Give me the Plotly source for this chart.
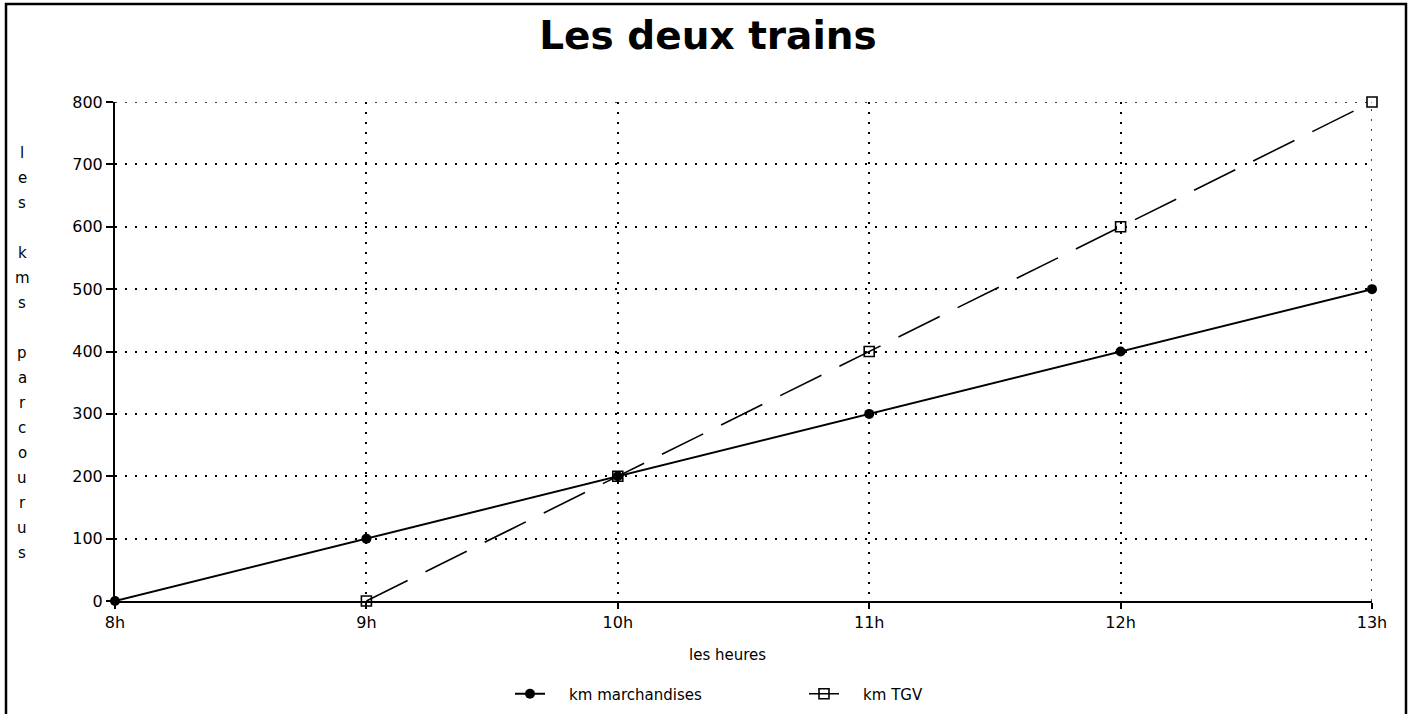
import plotly.graph_objects as go

hours = [8, 9, 10, 11, 12, 13]
hour_labels = ["8h", "9h", "10h", "11h", "12h", "13h"]
km_marchandises = [0, 100, 200, 300, 400, 500]
tgv_hours = [9, 10, 11, 12, 13]
km_tgv = [0, 200, 400, 600, 800]
y_ticks = [0, 100, 200, 300, 400, 500, 600, 700, 800]
series_names = ["km marchandises", "km TGV"]
y_title_letters = list("les") + [""] + list("kms") + [""] + list("parcourus")

W, H = 1410, 714
L, R, T, B = 115, 1372, 102, 601

def px(x):
    return (x - L) / (R - L)

def py(y):
    return (B - y) / (B - T)

FONT = "DejaVu Sans, Arial, sans-serif"
GRID = dict(color="black", width=1.5, dash="2px,8px")
PAD = "\u00a0" * 4

fig = go.Figure()
fig.add_trace(go.Scatter(
    x=hours, y=km_marchandises, name=PAD + series_names[0],
    mode="lines+markers", cliponaxis=False,
    line=dict(color="black", width=2),
    marker=dict(symbol="circle", size=10, color="black"),
))
fig.add_trace(go.Scatter(
    x=tgv_hours, y=km_tgv, name=PAD + series_names[1],
    mode="lines+markers", cliponaxis=False,
    line=dict(color="black", width=1.6, dash="46px,20px"),
    marker=dict(symbol="square-open", size=10, color="black", line=dict(width=1.6, color="black")),
))

annotations = []
for i, ch in enumerate(y_title_letters):
    if ch:
        annotations.append(dict(
            text=ch, x=px(22), y=py(153 + 25 * i), xref="paper", yref="paper",
            showarrow=False, xanchor="center", yanchor="middle",
            font=dict(family=FONT, size=15, color="black"),
        ))
annotations.append(dict(
    text="les heures", x=px(727), y=py(655), xref="paper", yref="paper",
    showarrow=False, xanchor="center", yanchor="middle",
    font=dict(family=FONT, size=15, color="black"),
))

shapes = [
    dict(type="rect", xref="paper", yref="paper",
         x0=px(6), x1=px(1406), y0=py(730), y1=py(4),
         line=dict(color="black", width=2.5), fillcolor="rgba(0,0,0,0)", layer="above"),
    # grid lines at the range ends (Plotly hides them at the edges)
    dict(type="line", xref="x", yref="y", x0=hours[0], x1=hours[-1],
         y0=y_ticks[-1], y1=y_ticks[-1], line=GRID, layer="below"),
    dict(type="line", xref="x", yref="y", x0=hours[-1], x1=hours[-1],
         y0=y_ticks[0], y1=y_ticks[-1], line=GRID, layer="below"),
]

fig.update_layout(
    width=W, height=H,
    margin=dict(l=L, r=W - R, t=T, b=H - B, autoexpand=False),
    paper_bgcolor="white", plot_bgcolor="white",
    title=dict(text="<b>Les deux trains</b>", x=708 / W, xanchor="center",
               y=1 - 35 / H, yanchor="middle", yref="container", xref="container",
               font=dict(family=FONT, size=39, color="black")),
    xaxis=dict(range=[8, 13], tickvals=hours, ticktext=hour_labels,
               showline=True, linecolor="black", linewidth=2,
               ticks="outside", ticklen=6, tickwidth=2, tickcolor="black",
               showgrid=True, gridcolor="black", gridwidth=1.5, griddash="2px,8px",
               zeroline=False, tickfont=dict(family=FONT, size=16, color="black")),
    yaxis=dict(range=[0, 800], tickvals=y_ticks,
               showline=True, linecolor="black", linewidth=2,
               ticks="outside", ticklen=7, tickwidth=2, tickcolor="black",
               showgrid=True, gridcolor="black", gridwidth=1.5, griddash="2px,8px",
               zeroline=False, tickfont=dict(family=FONT, size=16, color="black")),
    legend=dict(orientation="h", x=px(510), xanchor="left", y=py(694), yanchor="middle",
                itemwidth=30, entrywidth=249, entrywidthmode="pixels",
                font=dict(family=FONT, size=15, color="black"),
                bgcolor="rgba(0,0,0,0)"),
    showlegend=True,
    annotations=annotations,
    shapes=shapes,
)

fig.write_html("out.html", config={"displayModeBar": False},
               post_script="document.body.style.margin='0';document.body.style.overflow='hidden';")
